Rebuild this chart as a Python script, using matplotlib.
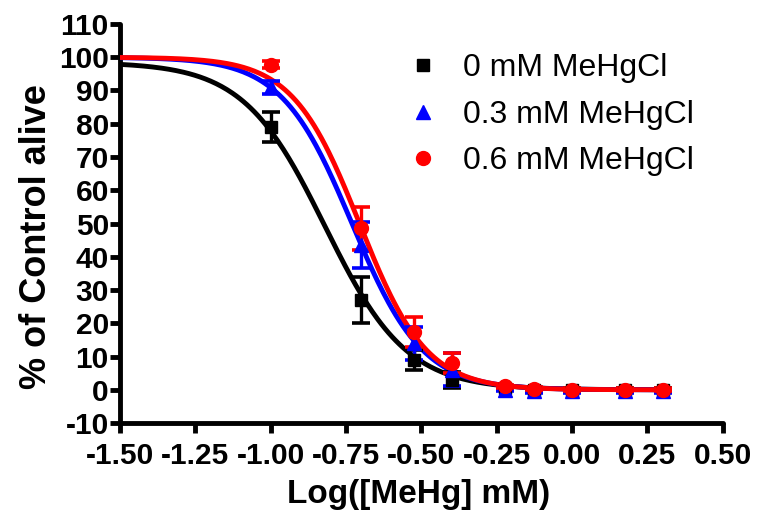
import numpy as np
from matplotlib import pyplot as plt

plt.rcParams['font.family'] = ['Liberation Sans', 'DejaVu Sans']
plt.rcParams['axes.unicode_minus'] = False

# log concentrations of MeHg (mM)
log_conc = [-1.0, -0.699, -0.523, -0.398, -0.222, -0.125, 0.0, 0.176, 0.301]

# % of control alive, mean and error
alive_0 = [79, 27, 9, 3, 0.5, 0, 0, 0, 0]
err_0 = [4.5, 6.8, 3, 2.4, 0.5, 0.5, 0.5, 0.5, 0.5]
alive_03 = [91, 43.5, 14, 6, 0, -0.5, -0.5, -0.5, -0.5]
err_03 = [2, 7, 5, 5, 0.5, 0.5, 0.5, 0.5, 0.5]
alive_06 = [97.8, 48.5, 17.5, 8, 1, 0.3, 0, 0, 0]
err_06 = [1, 6.4, 4.5, 3, 0.5, 0.5, 0.5, 0.5, 0.5]

# sigmoid fit parameters: top, bottom, logIC50, hill slope
fit_0 = (98.5, 0, -0.82, 3.2)
fit_03 = (100, 0, -0.73, 3.7)
fit_06 = (100, 0, -0.705, 3.9)

labels = ['0 mM MeHgCl', '0.3 mM MeHgCl', '0.6 mM MeHgCl']
colors = ['black', 'blue', 'red']
markers = ['s', '^', 'o']
msizes = [9, 10.5, 10]


def sigmoid(x, p):
    top, bottom, ic50, hill = p
    return bottom + (top - bottom) / (1 + 10 ** ((x - ic50) * hill))


fig = plt.figure(figsize=(7.57, 5.21), dpi=100)
ax = fig.add_axes([0.1585, 0.188, 0.796, 0.766])

xs = np.linspace(-1.5, 0.301, 300)
series = [(alive_0, err_0, fit_0), (alive_03, err_03, fit_03), (alive_06, err_06, fit_06)]
handles = []
for (vals, errs, fit), c, m, ms, lab in zip(series, colors, markers, msizes, labels):
    ax.plot(xs, sigmoid(xs, fit), color=c, lw=3.5, zorder=3, solid_capstyle='round')
    ax.errorbar(log_conc, vals, yerr=errs, fmt='none', ecolor=c, elinewidth=2.4,
                capsize=6.5, capthick=2.6, zorder=4)
    h, = ax.plot(log_conc, vals, linestyle='none', marker=m, color=c, markersize=ms,
                 zorder=5, label=lab)
    handles.append(h)

ax.set_xlim(-1.5, 0.5)
ax.set_ylim(-10, 110)
ticks = np.arange(-1.5, 0.51, 0.25)
ax.set_xticks(ticks)
ax.set_xticklabels(['%.2f' % t for t in ticks])
ax.set_yticks(range(-10, 111, 10))

for side in ['top', 'right']:
    ax.spines[side].set_visible(False)
for side in ['left', 'bottom']:
    ax.spines[side].set_linewidth(3.5)
    ax.spines[side].set_capstyle('round')
ax.tick_params(axis='both', which='major', direction='out', length=7, width=3.5,
               labelsize=21.5)
ax.tick_params(axis='x', pad=7)
ax.tick_params(axis='y', pad=1)
for lab in ax.get_xticklabels() + ax.get_yticklabels():
    lab.set_fontweight('bold')

ax.set_xlabel('Log([MeHg] mM)', fontsize=24, fontweight='bold')
ax.set_ylabel('% of Control alive', fontsize=26, fontweight='bold')
ax.xaxis.set_label_coords(0.496, -0.141)
ax.yaxis.set_label_coords(-0.11, 0.468)

ax.legend(handles=handles, loc='upper left', bbox_to_anchor=(0.5377, 0.898),
          bbox_transform=fig.transFigure, frameon=False, fontsize=23,
          handlelength=1.0, handletextpad=0.75, labelspacing=0.52,
          borderaxespad=0, borderpad=0)

plt.savefig('out.png', dpi=100)
